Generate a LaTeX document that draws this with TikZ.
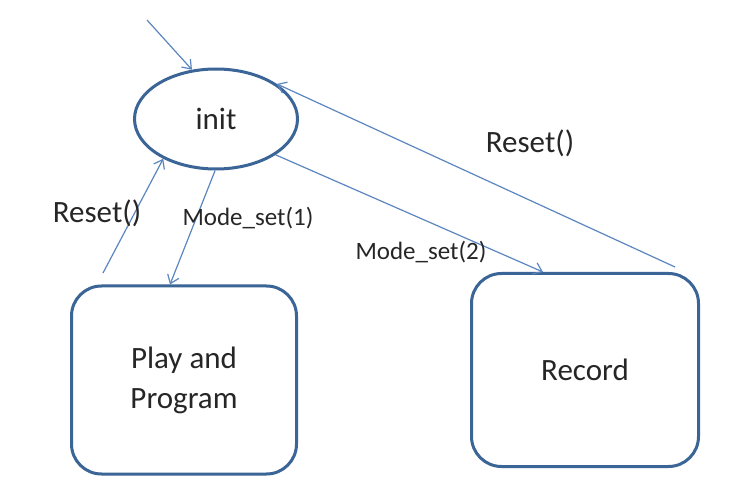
\documentclass[tikz,border=0pt]{standalone}
\usepackage{fontspec}
\setmainfont{Carlito}
\usepackage{xcolor}
\usetikzlibrary{shapes,arrows,positioning,calc,arrows.meta}

\definecolor{stateblue}{HTML}{3A6596}
\definecolor{linkblue}{HTML}{5B86C0}
\definecolor{inktext}{HTML}{262626}

\begin{document}
\begin{tikzpicture}[x=1pt, y=-1pt,
    >={Straight Barb[length=8pt,width=12pt]},
    state/.style={draw=stateblue, line width=3pt, text=inktext, font=\fontsize{31}{40}\selectfont},
    link/.style={draw=linkblue, line width=1.2pt},
    biglabel/.style={text=inktext, font=\fontsize{31}{36}\selectfont},
    smalllabel/.style={text=inktext, font=\fontsize{25}{30}\selectfont}]
    \useasboundingbox[fill=white] (0,0) rectangle (734,494);

    \node[state, ellipse, inner sep=0pt, minimum width=163pt, minimum height=100pt] (init) at (216,119) {init};
    \node[state, rounded corners=30pt, minimum width=225pt, minimum height=188pt, align=center] (play) at (184,380) {Play and\\Program};
    \node[state, rounded corners=30pt, minimum width=227pt, minimum height=193pt] (record) at (585,370) {Record};

    \coordinate (start) at (147,20);
    \coordinate (playout) at (103,273);
    \coordinate (recordout) at (675,267);

    \draw[link, ->] (start) -- (init.116);
    \draw[link, ->] (playout) -- (init.217);
    \draw[link, ->] (init.269) -- ($(play.north)+(-14,0)$);
    \draw[link, ->] (init.-31) -- ($(record.north)+(-42,0)$);
    \draw[link, ->] (recordout) -- (init.30);

    \node[biglabel] (resetplay) at (97,213) {Reset()};
    \node[smalllabel] (modeone) at (248,218) {Mode\_set(1)};
    \node[smalllabel] (modetwo) at (421,252) {Mode\_set(2)};
    \node[biglabel] (resetrecord) at (530,143) {Reset()};
\end{tikzpicture}
\end{document}
